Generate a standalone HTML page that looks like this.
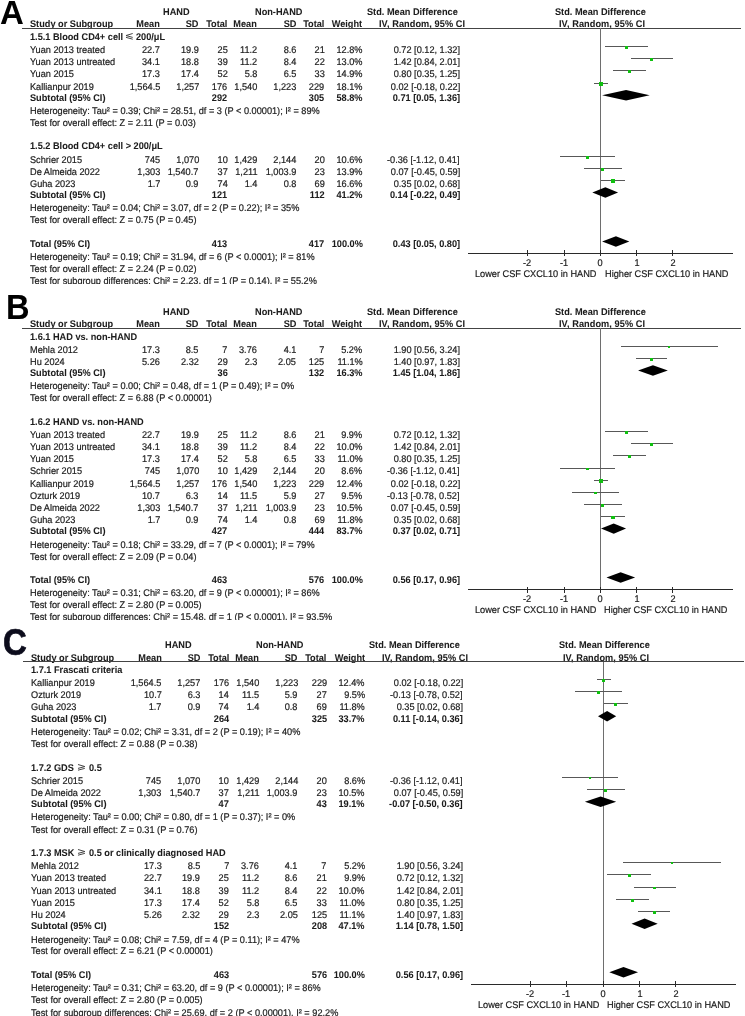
<!DOCTYPE html>
<html><head><meta charset="utf-8"><style>
html,body{margin:0;padding:0;background:#fff;}
body{width:745px;height:1016px;position:relative;overflow:hidden;font-family:"Liberation Sans",sans-serif;}
#wrap{position:absolute;left:0;top:0;width:745px;height:1016px;overflow:hidden;background:#fff;filter:blur(0.3px);}
.clip{position:absolute;left:0;width:745px;overflow:hidden;}
.inner{position:absolute;left:0;width:745px;height:1016px;}
.t{position:absolute;font-size:9.7px;line-height:11px;white-space:nowrap;color:#1c1c1c;text-rendering:geometricPrecision;transform:scaleX(0.9474);-webkit-text-stroke:0.2px #1c1c1c;}
.b{font-weight:bold;-webkit-text-stroke-width:0.06px;}
.l{position:absolute;}
.ov{position:absolute;left:0;top:0;}
.big{position:absolute;font-weight:bold;line-height:1;color:#000;}
</style></head><body><div id="wrap">
<div class="clip" style="top:0px;height:284px"><div class="inner" style="top:0px"><div class="t b" style="top:7.40px;left:163.00px;transform-origin:0 0;">HAND</div>
<div class="t b" style="top:7.40px;left:254.60px;transform-origin:0 0;">Non-HAND</div>
<div class="t b" style="top:7.40px;left:367.00px;transform-origin:0 0;">Std. Mean Difference</div>
<div class="t b" style="top:7.40px;left:555.20px;transform-origin:0 0;">Std. Mean Difference</div>
<div class="t b" style="top:19.30px;left:29.60px;transform-origin:0 0;">Study or Subgroup</div>
<div class="t b" style="top:19.30px;right:585.00px;transform-origin:100% 0;">Mean</div>
<div class="t b" style="top:19.30px;right:546.20px;transform-origin:100% 0;">SD</div>
<div class="t b" style="top:19.30px;right:517.50px;transform-origin:100% 0;">Total</div>
<div class="t b" style="top:19.30px;right:487.80px;transform-origin:100% 0;">Mean</div>
<div class="t b" style="top:19.30px;right:449.00px;transform-origin:100% 0;">SD</div>
<div class="t b" style="top:19.30px;right:420.50px;transform-origin:100% 0;">Total</div>
<div class="t b" style="top:19.30px;right:382.50px;transform-origin:100% 0;">Weight</div>
<div class="t b" style="top:19.30px;left:379.10px;transform-origin:0 0;"><span style="letter-spacing:0.07px">IV, Random, 95% CI</span></div>
<div class="t b" style="top:19.30px;left:559.20px;transform-origin:0 0;"><span style="letter-spacing:0.07px">IV, Random, 95% CI</span></div>
<div class="l" style="left:22.00px;top:28.00px;width:719.00px;height:1px;background:#444"></div>
<div class="l" style="left:600.00px;top:28.30px;width:1px;height:225.00px;background:#6e6e6e"></div>
<div class="t b" style="top:32.10px;left:29.60px;transform-origin:0 0;">1.5.1 Blood CD4+ cell</div>
<svg class="l" style="left:125.10px;top:32.80px;overflow:visible" width="8.70" height="8" viewBox="-1 0 8.70 8"><path d="M6.70,0.5 L0,2.55 L6.70,4.4 M0,4.35 L6.70,6.2" stroke="#3a3a3a" stroke-width="0.95" fill="none" stroke-linecap="butt"/></svg>
<div class="t b" style="top:32.10px;left:136.40px;transform-origin:0 0;">200/μL</div>
<div class="t" style="top:44.90px;left:29.60px;transform-origin:0 0;">Yuan 2013 treated</div>
<div class="t" style="top:44.90px;right:585.00px;transform-origin:100% 0;">22.7</div>
<div class="t" style="top:44.90px;right:546.20px;transform-origin:100% 0;">19.9</div>
<div class="t" style="top:44.90px;right:517.50px;transform-origin:100% 0;">25</div>
<div class="t" style="top:44.90px;right:487.80px;transform-origin:100% 0;">11.2</div>
<div class="t" style="top:44.90px;right:449.00px;transform-origin:100% 0;">8.6</div>
<div class="t" style="top:44.90px;right:420.50px;transform-origin:100% 0;">21</div>
<div class="t" style="top:44.90px;right:382.50px;transform-origin:100% 0;">12.8%</div>
<div class="t" style="top:44.90px;right:285.10px;transform-origin:100% 0;">0.72 [0.12, 1.32]</div>
<div class="l" style="left:604.66px;top:46.00px;width:43.56px;height:1px;background:#585858"></div>
<div class="l" style="left:624.86px;top:45.73px;width:3.15px;height:3.15px;background:#10c010"></div>
<div class="t" style="top:57.20px;left:29.60px;transform-origin:0 0;">Yuan 2013 untreated</div>
<div class="t" style="top:57.20px;right:585.00px;transform-origin:100% 0;">34.1</div>
<div class="t" style="top:57.20px;right:546.20px;transform-origin:100% 0;">18.8</div>
<div class="t" style="top:57.20px;right:517.50px;transform-origin:100% 0;">39</div>
<div class="t" style="top:57.20px;right:487.80px;transform-origin:100% 0;">11.2</div>
<div class="t" style="top:57.20px;right:449.00px;transform-origin:100% 0;">8.4</div>
<div class="t" style="top:57.20px;right:420.50px;transform-origin:100% 0;">22</div>
<div class="t" style="top:57.20px;right:382.50px;transform-origin:100% 0;">13.0%</div>
<div class="t" style="top:57.20px;right:285.10px;transform-origin:100% 0;">1.42 [0.84, 2.01]</div>
<div class="l" style="left:630.79px;top:58.00px;width:42.47px;height:1px;background:#585858"></div>
<div class="l" style="left:650.26px;top:58.01px;width:3.17px;height:3.17px;background:#10c010"></div>
<div class="t" style="top:69.30px;left:29.60px;transform-origin:0 0;">Yuan 2015</div>
<div class="t" style="top:69.30px;right:585.00px;transform-origin:100% 0;">17.3</div>
<div class="t" style="top:69.30px;right:546.20px;transform-origin:100% 0;">17.4</div>
<div class="t" style="top:69.30px;right:517.50px;transform-origin:100% 0;">52</div>
<div class="t" style="top:69.30px;right:487.80px;transform-origin:100% 0;">5.8</div>
<div class="t" style="top:69.30px;right:449.00px;transform-origin:100% 0;">6.5</div>
<div class="t" style="top:69.30px;right:420.50px;transform-origin:100% 0;">33</div>
<div class="t" style="top:69.30px;right:382.50px;transform-origin:100% 0;">14.9%</div>
<div class="t" style="top:69.30px;right:285.10px;transform-origin:100% 0;">0.80 [0.35, 1.25]</div>
<div class="l" style="left:613.00px;top:70.00px;width:32.67px;height:1px;background:#585858"></div>
<div class="l" style="left:627.64px;top:70.00px;width:3.40px;height:3.40px;background:#10c010"></div>
<div class="t" style="top:81.90px;left:29.60px;transform-origin:0 0;">Kallianpur 2019</div>
<div class="t" style="top:81.90px;right:585.00px;transform-origin:100% 0;">1,564.5</div>
<div class="t" style="top:81.90px;right:546.20px;transform-origin:100% 0;">1,257</div>
<div class="t" style="top:81.90px;right:517.50px;transform-origin:100% 0;">176</div>
<div class="t" style="top:81.90px;right:487.80px;transform-origin:100% 0;">1,540</div>
<div class="t" style="top:81.90px;right:449.00px;transform-origin:100% 0;">1,223</div>
<div class="t" style="top:81.90px;right:420.50px;transform-origin:100% 0;">229</div>
<div class="t" style="top:81.90px;right:382.50px;transform-origin:100% 0;">18.1%</div>
<div class="t" style="top:81.90px;right:285.10px;transform-origin:100% 0;">0.02 [-0.18, 0.22]</div>
<div class="l" style="left:593.77px;top:83.00px;width:14.52px;height:1px;background:#585858"></div>
<div class="l" style="left:599.15px;top:82.43px;width:3.74px;height:3.74px;background:#10c010"></div>
<div class="t b" style="top:92.80px;left:29.60px;transform-origin:0 0;">Subtotal (95% CI)</div>
<div class="t b" style="top:92.80px;right:517.50px;transform-origin:100% 0;">292</div>
<div class="t b" style="top:92.80px;right:420.50px;transform-origin:100% 0;">305</div>
<div class="t b" style="top:92.80px;right:382.50px;transform-origin:100% 0;">58.8%</div>
<div class="t b" style="top:92.80px;right:285.10px;transform-origin:100% 0;">0.71 [0.05, 1.36]</div>
<div class="t" style="top:106.00px;left:29.60px;transform-origin:0 0;">Heterogeneity: Tau² = 0.39; Chi² = 28.51, df = 3 (P &lt; 0.00001); I² = 89%</div>
<div class="t" style="top:117.80px;left:29.60px;transform-origin:0 0;">Test for overall effect: Z = 2.11 (P = 0.03)</div>
<div class="t b" style="top:141.30px;left:29.60px;transform-origin:0 0;">1.5.2 Blood CD4+ cell &gt; 200/μL</div>
<div class="t" style="top:154.70px;left:29.60px;transform-origin:0 0;">Schrier 2015</div>
<div class="t" style="top:154.70px;right:585.00px;transform-origin:100% 0;">745</div>
<div class="t" style="top:154.70px;right:546.20px;transform-origin:100% 0;">1,070</div>
<div class="t" style="top:154.70px;right:517.50px;transform-origin:100% 0;">10</div>
<div class="t" style="top:154.70px;right:487.80px;transform-origin:100% 0;">1,429</div>
<div class="t" style="top:154.70px;right:449.00px;transform-origin:100% 0;">2,144</div>
<div class="t" style="top:154.70px;right:420.50px;transform-origin:100% 0;">20</div>
<div class="t" style="top:154.70px;right:382.50px;transform-origin:100% 0;">10.6%</div>
<div class="t" style="top:154.70px;right:285.10px;transform-origin:100% 0;">-0.36 [-1.12, 0.41]</div>
<div class="l" style="left:559.64px;top:156.00px;width:55.54px;height:1px;background:#585858"></div>
<div class="l" style="left:585.80px;top:155.67px;width:2.87px;height:2.87px;background:#10c010"></div>
<div class="t" style="top:166.80px;left:29.60px;transform-origin:0 0;">De Almeida 2022</div>
<div class="t" style="top:166.80px;right:585.00px;transform-origin:100% 0;">1,303</div>
<div class="t" style="top:166.80px;right:546.20px;transform-origin:100% 0;">1,540.7</div>
<div class="t" style="top:166.80px;right:517.50px;transform-origin:100% 0;">37</div>
<div class="t" style="top:166.80px;right:487.80px;transform-origin:100% 0;">1,211</div>
<div class="t" style="top:166.80px;right:449.00px;transform-origin:100% 0;">1,003.9</div>
<div class="t" style="top:166.80px;right:420.50px;transform-origin:100% 0;">23</div>
<div class="t" style="top:166.80px;right:382.50px;transform-origin:100% 0;">13.9%</div>
<div class="t" style="top:166.80px;right:285.10px;transform-origin:100% 0;">0.07 [-0.45, 0.59]</div>
<div class="l" style="left:583.96px;top:168.00px;width:37.75px;height:1px;background:#585858"></div>
<div class="l" style="left:601.20px;top:167.56px;width:3.28px;height:3.28px;background:#10c010"></div>
<div class="t" style="top:178.70px;left:29.60px;transform-origin:0 0;">Guha 2023</div>
<div class="t" style="top:178.70px;right:585.00px;transform-origin:100% 0;">1.7</div>
<div class="t" style="top:178.70px;right:546.20px;transform-origin:100% 0;">0.9</div>
<div class="t" style="top:178.70px;right:517.50px;transform-origin:100% 0;">74</div>
<div class="t" style="top:178.70px;right:487.80px;transform-origin:100% 0;">1.4</div>
<div class="t" style="top:178.70px;right:449.00px;transform-origin:100% 0;">0.8</div>
<div class="t" style="top:178.70px;right:420.50px;transform-origin:100% 0;">69</div>
<div class="t" style="top:178.70px;right:382.50px;transform-origin:100% 0;">16.6%</div>
<div class="t" style="top:178.70px;right:285.10px;transform-origin:100% 0;">0.35 [0.02, 0.68]</div>
<div class="l" style="left:601.03px;top:180.00px;width:23.96px;height:1px;background:#585858"></div>
<div class="l" style="left:611.21px;top:179.31px;width:3.59px;height:3.59px;background:#10c010"></div>
<div class="t b" style="top:190.10px;left:29.60px;transform-origin:0 0;">Subtotal (95% CI)</div>
<div class="t b" style="top:190.10px;right:517.50px;transform-origin:100% 0;">121</div>
<div class="t b" style="top:190.10px;right:420.50px;transform-origin:100% 0;">112</div>
<div class="t b" style="top:190.10px;right:382.50px;transform-origin:100% 0;">41.2%</div>
<div class="t b" style="top:190.10px;right:285.10px;transform-origin:100% 0;">0.14 [-0.22, 0.49]</div>
<div class="t" style="top:203.20px;left:29.60px;transform-origin:0 0;">Heterogeneity: Tau² = 0.04; Chi² = 3.07, df = 2 (P = 0.22); I² = 35%</div>
<div class="t" style="top:214.60px;left:29.60px;transform-origin:0 0;">Test for overall effect: Z = 0.75 (P = 0.45)</div>
<div class="t b" style="top:239.10px;left:29.60px;transform-origin:0 0;">Total (95% CI)</div>
<div class="t b" style="top:239.10px;right:517.50px;transform-origin:100% 0;">413</div>
<div class="t b" style="top:239.10px;right:420.50px;transform-origin:100% 0;">417</div>
<div class="t b" style="top:239.10px;right:382.50px;transform-origin:100% 0;">100.0%</div>
<div class="t b" style="top:239.10px;right:285.10px;transform-origin:100% 0;">0.43 [0.05, 0.80]</div>
<div class="t" style="top:252.20px;left:29.60px;transform-origin:0 0;">Heterogeneity: Tau² = 0.19; Chi² = 31.94, df = 6 (P &lt; 0.0001); I² = 81%</div>
<div class="t" style="top:264.30px;left:29.60px;transform-origin:0 0;">Test for overall effect: Z = 2.24 (P = 0.02)</div>
<div class="t" style="top:276.00px;left:29.60px;transform-origin:0 0;">Test for subgroup differences: Chi² = 2.23, df = 1 (P = 0.14), I² = 55.2%</div>
<div class="l" style="left:468.00px;top:253.00px;width:264.50px;height:1px;background:#2a2a2a"></div>
<div class="l" style="left:527.00px;top:250.30px;width:1px;height:6.00px;background:#2a2a2a"></div>
<div class="t" style="top:257.80px;left:427.20px;width:200px;text-align:center;transform-origin:50% 0;">-2</div>
<div class="l" style="left:564.00px;top:250.30px;width:1px;height:6.00px;background:#2a2a2a"></div>
<div class="t" style="top:257.80px;left:463.50px;width:200px;text-align:center;transform-origin:50% 0;">-1</div>
<div class="l" style="left:600.00px;top:250.30px;width:1px;height:6.00px;background:#2a2a2a"></div>
<div class="t" style="top:257.80px;left:500.30px;width:200px;text-align:center;transform-origin:50% 0;">0</div>
<div class="l" style="left:636.00px;top:250.30px;width:1px;height:6.00px;background:#2a2a2a"></div>
<div class="t" style="top:257.80px;left:536.60px;width:200px;text-align:center;transform-origin:50% 0;">1</div>
<div class="l" style="left:672.00px;top:250.30px;width:1px;height:6.00px;background:#2a2a2a"></div>
<div class="t" style="top:257.80px;left:572.90px;width:200px;text-align:center;transform-origin:50% 0;">2</div>
<div class="t" style="top:269.10px;left:475.10px;transform-origin:0 0;">Lower CSF CXCL10 in HAND</div>
<div class="t" style="top:269.10px;left:604.60px;transform-origin:0 0;">Higher CSF CXCL10 in HAND</div><svg class="ov" width="745" height="1016" viewBox="0 0 745 1016"><polygon points="602.12,95.20 626.07,90.00 649.67,95.20 626.07,100.40" fill="#000"/><polygon points="592.31,192.50 605.38,187.30 618.09,192.50 605.38,197.70" fill="#000"/><polygon points="602.12,241.50 615.91,236.30 629.34,241.50 615.91,246.70" fill="#000"/></svg></div></div><div class="clip" style="top:284px;height:336px"><div class="inner" style="top:-284px"><div class="t b" style="top:307.40px;left:163.00px;transform-origin:0 0;">HAND</div>
<div class="t b" style="top:307.40px;left:254.60px;transform-origin:0 0;">Non-HAND</div>
<div class="t b" style="top:307.40px;left:367.00px;transform-origin:0 0;">Std. Mean Difference</div>
<div class="t b" style="top:307.40px;left:555.20px;transform-origin:0 0;">Std. Mean Difference</div>
<div class="t b" style="top:319.40px;left:29.60px;transform-origin:0 0;">Study or Subgroup</div>
<div class="t b" style="top:319.40px;right:585.00px;transform-origin:100% 0;">Mean</div>
<div class="t b" style="top:319.40px;right:546.20px;transform-origin:100% 0;">SD</div>
<div class="t b" style="top:319.40px;right:517.50px;transform-origin:100% 0;">Total</div>
<div class="t b" style="top:319.40px;right:487.80px;transform-origin:100% 0;">Mean</div>
<div class="t b" style="top:319.40px;right:449.00px;transform-origin:100% 0;">SD</div>
<div class="t b" style="top:319.40px;right:420.50px;transform-origin:100% 0;">Total</div>
<div class="t b" style="top:319.40px;right:382.50px;transform-origin:100% 0;">Weight</div>
<div class="t b" style="top:319.40px;left:379.10px;transform-origin:0 0;"><span style="letter-spacing:0.07px">IV, Random, 95% CI</span></div>
<div class="t b" style="top:319.40px;left:559.20px;transform-origin:0 0;"><span style="letter-spacing:0.07px">IV, Random, 95% CI</span></div>
<div class="l" style="left:22.30px;top:328.00px;width:718.50px;height:1px;background:#444"></div>
<div class="l" style="left:600.00px;top:328.30px;width:1px;height:261.30px;background:#6e6e6e"></div>
<div class="t b" style="top:331.80px;left:29.60px;transform-origin:0 0;">1.6.1 HAD vs. non-HAND</div>
<div class="t" style="top:344.80px;left:29.60px;transform-origin:0 0;">Mehla 2012</div>
<div class="t" style="top:344.80px;right:585.00px;transform-origin:100% 0;">17.3</div>
<div class="t" style="top:344.80px;right:546.20px;transform-origin:100% 0;">8.5</div>
<div class="t" style="top:344.80px;right:517.50px;transform-origin:100% 0;">7</div>
<div class="t" style="top:344.80px;right:487.80px;transform-origin:100% 0;">3.76</div>
<div class="t" style="top:344.80px;right:449.00px;transform-origin:100% 0;">4.1</div>
<div class="t" style="top:344.80px;right:420.50px;transform-origin:100% 0;">7</div>
<div class="t" style="top:344.80px;right:382.50px;transform-origin:100% 0;">5.2%</div>
<div class="t" style="top:344.80px;right:285.10px;transform-origin:100% 0;">1.90 [0.56, 3.24]</div>
<div class="l" style="left:620.63px;top:346.00px;width:97.28px;height:1px;background:#585858"></div>
<div class="l" style="left:668.27px;top:346.20px;width:2.01px;height:2.01px;background:#10c010"></div>
<div class="t" style="top:357.00px;left:29.60px;transform-origin:0 0;">Hu 2024</div>
<div class="t" style="top:357.00px;right:585.00px;transform-origin:100% 0;">5.26</div>
<div class="t" style="top:357.00px;right:546.20px;transform-origin:100% 0;">2.32</div>
<div class="t" style="top:357.00px;right:517.50px;transform-origin:100% 0;">29</div>
<div class="t" style="top:357.00px;right:487.80px;transform-origin:100% 0;">2.3</div>
<div class="t" style="top:357.00px;right:449.00px;transform-origin:100% 0;">2.05</div>
<div class="t" style="top:357.00px;right:420.50px;transform-origin:100% 0;">125</div>
<div class="t" style="top:357.00px;right:382.50px;transform-origin:100% 0;">11.1%</div>
<div class="t" style="top:357.00px;right:285.10px;transform-origin:100% 0;">1.40 [0.97, 1.83]</div>
<div class="l" style="left:635.51px;top:358.00px;width:31.22px;height:1px;background:#585858"></div>
<div class="l" style="left:649.65px;top:357.93px;width:2.93px;height:2.93px;background:#10c010"></div>
<div class="t b" style="top:368.10px;left:29.60px;transform-origin:0 0;">Subtotal (95% CI)</div>
<div class="t b" style="top:368.10px;right:517.50px;transform-origin:100% 0;">36</div>
<div class="t b" style="top:368.10px;right:420.50px;transform-origin:100% 0;">132</div>
<div class="t b" style="top:368.10px;right:382.50px;transform-origin:100% 0;">16.3%</div>
<div class="t b" style="top:368.10px;right:285.10px;transform-origin:100% 0;">1.45 [1.04, 1.86]</div>
<div class="t" style="top:381.10px;left:29.60px;transform-origin:0 0;">Heterogeneity: Tau² = 0.00; Chi² = 0.48, df = 1 (P = 0.49); I² = 0%</div>
<div class="t" style="top:392.90px;left:29.60px;transform-origin:0 0;">Test for overall effect: Z = 6.88 (P &lt; 0.00001)</div>
<div class="t b" style="top:416.70px;left:29.60px;transform-origin:0 0;">1.6.2 HAND vs. non-HAND</div>
<div class="t" style="top:430.00px;left:29.60px;transform-origin:0 0;">Yuan 2013 treated</div>
<div class="t" style="top:430.00px;right:585.00px;transform-origin:100% 0;">22.7</div>
<div class="t" style="top:430.00px;right:546.20px;transform-origin:100% 0;">19.9</div>
<div class="t" style="top:430.00px;right:517.50px;transform-origin:100% 0;">25</div>
<div class="t" style="top:430.00px;right:487.80px;transform-origin:100% 0;">11.2</div>
<div class="t" style="top:430.00px;right:449.00px;transform-origin:100% 0;">8.6</div>
<div class="t" style="top:430.00px;right:420.50px;transform-origin:100% 0;">21</div>
<div class="t" style="top:430.00px;right:382.50px;transform-origin:100% 0;">9.9%</div>
<div class="t" style="top:430.00px;right:285.10px;transform-origin:100% 0;">0.72 [0.12, 1.32]</div>
<div class="l" style="left:604.66px;top:431.00px;width:43.56px;height:1px;background:#585858"></div>
<div class="l" style="left:625.05px;top:431.02px;width:2.77px;height:2.77px;background:#10c010"></div>
<div class="t" style="top:442.10px;left:29.60px;transform-origin:0 0;">Yuan 2013 untreated</div>
<div class="t" style="top:442.10px;right:585.00px;transform-origin:100% 0;">34.1</div>
<div class="t" style="top:442.10px;right:546.20px;transform-origin:100% 0;">18.8</div>
<div class="t" style="top:442.10px;right:517.50px;transform-origin:100% 0;">39</div>
<div class="t" style="top:442.10px;right:487.80px;transform-origin:100% 0;">11.2</div>
<div class="t" style="top:442.10px;right:449.00px;transform-origin:100% 0;">8.4</div>
<div class="t" style="top:442.10px;right:420.50px;transform-origin:100% 0;">22</div>
<div class="t" style="top:442.10px;right:382.50px;transform-origin:100% 0;">10.0%</div>
<div class="t" style="top:442.10px;right:285.10px;transform-origin:100% 0;">1.42 [0.84, 2.01]</div>
<div class="l" style="left:630.79px;top:443.00px;width:42.47px;height:1px;background:#585858"></div>
<div class="l" style="left:650.45px;top:443.11px;width:2.78px;height:2.78px;background:#10c010"></div>
<div class="t" style="top:454.20px;left:29.60px;transform-origin:0 0;">Yuan 2015</div>
<div class="t" style="top:454.20px;right:585.00px;transform-origin:100% 0;">17.3</div>
<div class="t" style="top:454.20px;right:546.20px;transform-origin:100% 0;">17.4</div>
<div class="t" style="top:454.20px;right:517.50px;transform-origin:100% 0;">52</div>
<div class="t" style="top:454.20px;right:487.80px;transform-origin:100% 0;">5.8</div>
<div class="t" style="top:454.20px;right:449.00px;transform-origin:100% 0;">6.5</div>
<div class="t" style="top:454.20px;right:420.50px;transform-origin:100% 0;">33</div>
<div class="t" style="top:454.20px;right:382.50px;transform-origin:100% 0;">11.0%</div>
<div class="t" style="top:454.20px;right:285.10px;transform-origin:100% 0;">0.80 [0.35, 1.25]</div>
<div class="l" style="left:613.00px;top:455.00px;width:32.67px;height:1px;background:#585858"></div>
<div class="l" style="left:627.88px;top:455.14px;width:2.92px;height:2.92px;background:#10c010"></div>
<div class="t" style="top:466.40px;left:29.60px;transform-origin:0 0;">Schrier 2015</div>
<div class="t" style="top:466.40px;right:585.00px;transform-origin:100% 0;">745</div>
<div class="t" style="top:466.40px;right:546.20px;transform-origin:100% 0;">1,070</div>
<div class="t" style="top:466.40px;right:517.50px;transform-origin:100% 0;">10</div>
<div class="t" style="top:466.40px;right:487.80px;transform-origin:100% 0;">1,429</div>
<div class="t" style="top:466.40px;right:449.00px;transform-origin:100% 0;">2,144</div>
<div class="t" style="top:466.40px;right:420.50px;transform-origin:100% 0;">20</div>
<div class="t" style="top:466.40px;right:382.50px;transform-origin:100% 0;">8.6%</div>
<div class="t" style="top:466.40px;right:285.10px;transform-origin:100% 0;">-0.36 [-1.12, 0.41]</div>
<div class="l" style="left:559.64px;top:468.00px;width:55.54px;height:1px;background:#585858"></div>
<div class="l" style="left:585.94px;top:467.51px;width:2.58px;height:2.58px;background:#10c010"></div>
<div class="t" style="top:478.60px;left:29.60px;transform-origin:0 0;">Kallianpur 2019</div>
<div class="t" style="top:478.60px;right:585.00px;transform-origin:100% 0;">1,564.5</div>
<div class="t" style="top:478.60px;right:546.20px;transform-origin:100% 0;">1,257</div>
<div class="t" style="top:478.60px;right:517.50px;transform-origin:100% 0;">176</div>
<div class="t" style="top:478.60px;right:487.80px;transform-origin:100% 0;">1,540</div>
<div class="t" style="top:478.60px;right:449.00px;transform-origin:100% 0;">1,223</div>
<div class="t" style="top:478.60px;right:420.50px;transform-origin:100% 0;">229</div>
<div class="t" style="top:478.60px;right:382.50px;transform-origin:100% 0;">12.4%</div>
<div class="t" style="top:478.60px;right:285.10px;transform-origin:100% 0;">0.02 [-0.18, 0.22]</div>
<div class="l" style="left:593.77px;top:480.00px;width:14.52px;height:1px;background:#585858"></div>
<div class="l" style="left:599.48px;top:479.45px;width:3.10px;height:3.10px;background:#10c010"></div>
<div class="t" style="top:490.70px;left:29.60px;transform-origin:0 0;">Ozturk 2019</div>
<div class="t" style="top:490.70px;right:585.00px;transform-origin:100% 0;">10.7</div>
<div class="t" style="top:490.70px;right:546.20px;transform-origin:100% 0;">6.3</div>
<div class="t" style="top:490.70px;right:517.50px;transform-origin:100% 0;">14</div>
<div class="t" style="top:490.70px;right:487.80px;transform-origin:100% 0;">11.5</div>
<div class="t" style="top:490.70px;right:449.00px;transform-origin:100% 0;">5.9</div>
<div class="t" style="top:490.70px;right:420.50px;transform-origin:100% 0;">27</div>
<div class="t" style="top:490.70px;right:382.50px;transform-origin:100% 0;">9.5%</div>
<div class="t" style="top:490.70px;right:285.10px;transform-origin:100% 0;">-0.13 [-0.78, 0.52]</div>
<div class="l" style="left:571.99px;top:492.00px;width:47.19px;height:1px;background:#585858"></div>
<div class="l" style="left:594.22px;top:491.74px;width:2.71px;height:2.71px;background:#10c010"></div>
<div class="t" style="top:502.90px;left:29.60px;transform-origin:0 0;">De Almeida 2022</div>
<div class="t" style="top:502.90px;right:585.00px;transform-origin:100% 0;">1,303</div>
<div class="t" style="top:502.90px;right:546.20px;transform-origin:100% 0;">1,540.7</div>
<div class="t" style="top:502.90px;right:517.50px;transform-origin:100% 0;">37</div>
<div class="t" style="top:502.90px;right:487.80px;transform-origin:100% 0;">1,211</div>
<div class="t" style="top:502.90px;right:449.00px;transform-origin:100% 0;">1,003.9</div>
<div class="t" style="top:502.90px;right:420.50px;transform-origin:100% 0;">23</div>
<div class="t" style="top:502.90px;right:382.50px;transform-origin:100% 0;">10.5%</div>
<div class="t" style="top:502.90px;right:285.10px;transform-origin:100% 0;">0.07 [-0.45, 0.59]</div>
<div class="l" style="left:583.96px;top:504.00px;width:37.75px;height:1px;background:#585858"></div>
<div class="l" style="left:601.42px;top:503.87px;width:2.85px;height:2.85px;background:#10c010"></div>
<div class="t" style="top:514.90px;left:29.60px;transform-origin:0 0;">Guha 2023</div>
<div class="t" style="top:514.90px;right:585.00px;transform-origin:100% 0;">1.7</div>
<div class="t" style="top:514.90px;right:546.20px;transform-origin:100% 0;">0.9</div>
<div class="t" style="top:514.90px;right:517.50px;transform-origin:100% 0;">74</div>
<div class="t" style="top:514.90px;right:487.80px;transform-origin:100% 0;">1.4</div>
<div class="t" style="top:514.90px;right:449.00px;transform-origin:100% 0;">0.8</div>
<div class="t" style="top:514.90px;right:420.50px;transform-origin:100% 0;">69</div>
<div class="t" style="top:514.90px;right:382.50px;transform-origin:100% 0;">11.8%</div>
<div class="t" style="top:514.90px;right:285.10px;transform-origin:100% 0;">0.35 [0.02, 0.68]</div>
<div class="l" style="left:601.03px;top:516.00px;width:23.96px;height:1px;background:#585858"></div>
<div class="l" style="left:611.49px;top:515.79px;width:3.02px;height:3.02px;background:#10c010"></div>
<div class="t b" style="top:526.20px;left:29.60px;transform-origin:0 0;">Subtotal (95% CI)</div>
<div class="t b" style="top:526.20px;right:517.50px;transform-origin:100% 0;">427</div>
<div class="t b" style="top:526.20px;right:420.50px;transform-origin:100% 0;">444</div>
<div class="t b" style="top:526.20px;right:382.50px;transform-origin:100% 0;">83.7%</div>
<div class="t b" style="top:526.20px;right:285.10px;transform-origin:100% 0;">0.37 [0.02, 0.71]</div>
<div class="t" style="top:539.50px;left:29.60px;transform-origin:0 0;">Heterogeneity: Tau² = 0.18; Chi² = 33.29, df = 7 (P &lt; 0.0001); I² = 79%</div>
<div class="t" style="top:551.50px;left:29.60px;transform-origin:0 0;">Test for overall effect: Z = 2.09 (P = 0.04)</div>
<div class="t b" style="top:575.10px;left:29.60px;transform-origin:0 0;">Total (95% CI)</div>
<div class="t b" style="top:575.10px;right:517.50px;transform-origin:100% 0;">463</div>
<div class="t b" style="top:575.10px;right:420.50px;transform-origin:100% 0;">576</div>
<div class="t b" style="top:575.10px;right:382.50px;transform-origin:100% 0;">100.0%</div>
<div class="t b" style="top:575.10px;right:285.10px;transform-origin:100% 0;">0.56 [0.17, 0.96]</div>
<div class="t" style="top:588.30px;left:29.60px;transform-origin:0 0;">Heterogeneity: Tau² = 0.31; Chi² = 63.20, df = 9 (P &lt; 0.00001); I² = 86%</div>
<div class="t" style="top:600.20px;left:29.60px;transform-origin:0 0;">Test for overall effect: Z = 2.80 (P = 0.005)</div>
<div class="t" style="top:612.30px;left:29.60px;transform-origin:0 0;">Test for subgroup differences: Chi² = 15.48, df = 1 (P &lt; 0.0001), I² = 93.5%</div>
<div class="l" style="left:468.00px;top:589.00px;width:264.90px;height:1px;background:#2a2a2a"></div>
<div class="l" style="left:527.00px;top:586.60px;width:1px;height:6.00px;background:#2a2a2a"></div>
<div class="t" style="top:594.10px;left:427.20px;width:200px;text-align:center;transform-origin:50% 0;">-2</div>
<div class="l" style="left:564.00px;top:586.60px;width:1px;height:6.00px;background:#2a2a2a"></div>
<div class="t" style="top:594.10px;left:463.50px;width:200px;text-align:center;transform-origin:50% 0;">-1</div>
<div class="l" style="left:600.00px;top:586.60px;width:1px;height:6.00px;background:#2a2a2a"></div>
<div class="t" style="top:594.10px;left:500.30px;width:200px;text-align:center;transform-origin:50% 0;">0</div>
<div class="l" style="left:636.00px;top:586.60px;width:1px;height:6.00px;background:#2a2a2a"></div>
<div class="t" style="top:594.10px;left:536.60px;width:200px;text-align:center;transform-origin:50% 0;">1</div>
<div class="l" style="left:672.00px;top:586.60px;width:1px;height:6.00px;background:#2a2a2a"></div>
<div class="t" style="top:594.10px;left:572.90px;width:200px;text-align:center;transform-origin:50% 0;">2</div>
<div class="t" style="top:605.40px;left:475.10px;transform-origin:0 0;">Lower CSF CXCL10 in HAND</div>
<div class="t" style="top:605.40px;left:604.40px;transform-origin:0 0;">Higher CSF CXCL10 in HAND</div><svg class="ov" width="745" height="1016" viewBox="0 0 745 1016"><polygon points="638.05,370.50 652.93,365.30 667.82,370.50 652.93,375.70" fill="#000"/><polygon points="601.03,528.60 613.73,523.40 626.07,528.60 613.73,533.80" fill="#000"/><polygon points="606.47,577.50 620.63,572.30 635.15,577.50 620.63,582.70" fill="#000"/></svg></div></div><div class="clip" style="top:620px;height:396px"><div class="inner" style="top:-620px"><div class="t b" style="top:640.40px;left:164.80px;transform-origin:0 0;">HAND</div>
<div class="t b" style="top:640.40px;left:256.20px;transform-origin:0 0;">Non-HAND</div>
<div class="t b" style="top:640.40px;left:369.10px;transform-origin:0 0;">Std. Mean Difference</div>
<div class="t b" style="top:640.40px;left:558.50px;transform-origin:0 0;">Std. Mean Difference</div>
<div class="t b" style="top:652.70px;left:30.90px;transform-origin:0 0;">Study or Subgroup</div>
<div class="t b" style="top:652.70px;right:583.40px;transform-origin:100% 0;">Mean</div>
<div class="t b" style="top:652.70px;right:545.00px;transform-origin:100% 0;">SD</div>
<div class="t b" style="top:652.70px;right:516.00px;transform-origin:100% 0;">Total</div>
<div class="t b" style="top:652.70px;right:485.80px;transform-origin:100% 0;">Mean</div>
<div class="t b" style="top:652.70px;right:447.20px;transform-origin:100% 0;">SD</div>
<div class="t b" style="top:652.70px;right:418.30px;transform-origin:100% 0;">Total</div>
<div class="t b" style="top:652.70px;right:380.20px;transform-origin:100% 0;">Weight</div>
<div class="t b" style="top:652.70px;left:381.50px;transform-origin:0 0;"><span style="letter-spacing:0.07px">IV, Random, 95% CI</span></div>
<div class="t b" style="top:652.70px;left:562.50px;transform-origin:0 0;"><span style="letter-spacing:0.07px">IV, Random, 95% CI</span></div>
<div class="l" style="left:23.20px;top:661.00px;width:721.30px;height:1px;background:#444"></div>
<div class="l" style="left:603.00px;top:661.50px;width:1px;height:322.90px;background:#6e6e6e"></div>
<div class="t b" style="top:665.10px;left:30.90px;transform-origin:0 0;">1.7.1 Frascati criteria</div>
<div class="t" style="top:677.80px;left:30.90px;transform-origin:0 0;">Kallianpur 2019</div>
<div class="t" style="top:677.80px;right:583.40px;transform-origin:100% 0;">1,564.5</div>
<div class="t" style="top:677.80px;right:545.00px;transform-origin:100% 0;">1,257</div>
<div class="t" style="top:677.80px;right:516.00px;transform-origin:100% 0;">176</div>
<div class="t" style="top:677.80px;right:485.80px;transform-origin:100% 0;">1,540</div>
<div class="t" style="top:677.80px;right:447.20px;transform-origin:100% 0;">1,223</div>
<div class="t" style="top:677.80px;right:418.30px;transform-origin:100% 0;">229</div>
<div class="t" style="top:677.80px;right:380.20px;transform-origin:100% 0;">12.4%</div>
<div class="t" style="top:677.80px;right:282.20px;transform-origin:100% 0;">0.02 [-0.18, 0.22]</div>
<div class="l" style="left:596.55px;top:679.00px;width:14.56px;height:1px;background:#585858"></div>
<div class="l" style="left:602.28px;top:678.65px;width:3.10px;height:3.10px;background:#10c010"></div>
<div class="t" style="top:689.90px;left:30.90px;transform-origin:0 0;">Ozturk 2019</div>
<div class="t" style="top:689.90px;right:583.40px;transform-origin:100% 0;">10.7</div>
<div class="t" style="top:689.90px;right:545.00px;transform-origin:100% 0;">6.3</div>
<div class="t" style="top:689.90px;right:516.00px;transform-origin:100% 0;">14</div>
<div class="t" style="top:689.90px;right:485.80px;transform-origin:100% 0;">11.5</div>
<div class="t" style="top:689.90px;right:447.20px;transform-origin:100% 0;">5.9</div>
<div class="t" style="top:689.90px;right:418.30px;transform-origin:100% 0;">27</div>
<div class="t" style="top:689.90px;right:380.20px;transform-origin:100% 0;">9.5%</div>
<div class="t" style="top:689.90px;right:282.20px;transform-origin:100% 0;">-0.13 [-0.78, 0.52]</div>
<div class="l" style="left:574.71px;top:691.00px;width:47.32px;height:1px;background:#585858"></div>
<div class="l" style="left:597.01px;top:690.94px;width:2.71px;height:2.71px;background:#10c010"></div>
<div class="t" style="top:702.20px;left:30.90px;transform-origin:0 0;">Guha 2023</div>
<div class="t" style="top:702.20px;right:583.40px;transform-origin:100% 0;">1.7</div>
<div class="t" style="top:702.20px;right:545.00px;transform-origin:100% 0;">0.9</div>
<div class="t" style="top:702.20px;right:516.00px;transform-origin:100% 0;">74</div>
<div class="t" style="top:702.20px;right:485.80px;transform-origin:100% 0;">1.4</div>
<div class="t" style="top:702.20px;right:447.20px;transform-origin:100% 0;">0.8</div>
<div class="t" style="top:702.20px;right:418.30px;transform-origin:100% 0;">69</div>
<div class="t" style="top:702.20px;right:380.20px;transform-origin:100% 0;">11.8%</div>
<div class="t" style="top:702.20px;right:282.20px;transform-origin:100% 0;">0.35 [0.02, 0.68]</div>
<div class="l" style="left:603.83px;top:703.00px;width:24.02px;height:1px;background:#585858"></div>
<div class="l" style="left:614.33px;top:703.09px;width:3.02px;height:3.02px;background:#10c010"></div>
<div class="t b" style="top:713.80px;left:30.90px;transform-origin:0 0;">Subtotal (95% CI)</div>
<div class="t b" style="top:713.80px;right:516.00px;transform-origin:100% 0;">264</div>
<div class="t b" style="top:713.80px;right:418.30px;transform-origin:100% 0;">325</div>
<div class="t b" style="top:713.80px;right:380.20px;transform-origin:100% 0;">33.7%</div>
<div class="t b" style="top:713.80px;right:282.20px;transform-origin:100% 0;">0.11 [-0.14, 0.36]</div>
<div class="t" style="top:726.80px;left:30.90px;transform-origin:0 0;">Heterogeneity: Tau² = 0.02; Chi² = 3.31, df = 2 (P = 0.19); I² = 40%</div>
<div class="t" style="top:739.10px;left:30.90px;transform-origin:0 0;">Test for overall effect: Z = 0.88 (P = 0.38)</div>
<div class="t b" style="top:762.60px;left:30.90px;transform-origin:0 0;">1.7.2 GDS</div>
<svg class="l" style="left:76.50px;top:763.80px;overflow:visible" width="8.80" height="8" viewBox="-1 0 8.80 8"><path d="M0,0.5 L6.80,2.55 L0,4.4 M0,6.2 L6.80,4.35" stroke="#3a3a3a" stroke-width="0.95" fill="none" stroke-linecap="butt"/></svg>
<div class="t b" style="top:762.60px;left:88.50px;transform-origin:0 0;">0.5</div>
<div class="t" style="top:775.70px;left:30.90px;transform-origin:0 0;">Schrier 2015</div>
<div class="t" style="top:775.70px;right:583.40px;transform-origin:100% 0;">745</div>
<div class="t" style="top:775.70px;right:545.00px;transform-origin:100% 0;">1,070</div>
<div class="t" style="top:775.70px;right:516.00px;transform-origin:100% 0;">10</div>
<div class="t" style="top:775.70px;right:485.80px;transform-origin:100% 0;">1,429</div>
<div class="t" style="top:775.70px;right:447.20px;transform-origin:100% 0;">2,144</div>
<div class="t" style="top:775.70px;right:418.30px;transform-origin:100% 0;">20</div>
<div class="t" style="top:775.70px;right:380.20px;transform-origin:100% 0;">8.6%</div>
<div class="t" style="top:775.70px;right:282.20px;transform-origin:100% 0;">-0.36 [-1.12, 0.41]</div>
<div class="l" style="left:562.33px;top:777.00px;width:55.69px;height:1px;background:#585858"></div>
<div class="l" style="left:588.71px;top:776.81px;width:2.58px;height:2.58px;background:#10c010"></div>
<div class="t" style="top:788.10px;left:30.90px;transform-origin:0 0;">De Almeida 2022</div>
<div class="t" style="top:788.10px;right:583.40px;transform-origin:100% 0;">1,303</div>
<div class="t" style="top:788.10px;right:545.00px;transform-origin:100% 0;">1,540.7</div>
<div class="t" style="top:788.10px;right:516.00px;transform-origin:100% 0;">37</div>
<div class="t" style="top:788.10px;right:485.80px;transform-origin:100% 0;">1,211</div>
<div class="t" style="top:788.10px;right:447.20px;transform-origin:100% 0;">1,003.9</div>
<div class="t" style="top:788.10px;right:418.30px;transform-origin:100% 0;">23</div>
<div class="t" style="top:788.10px;right:380.20px;transform-origin:100% 0;">10.5%</div>
<div class="t" style="top:788.10px;right:282.20px;transform-origin:100% 0;">0.07 [-0.45, 0.59]</div>
<div class="l" style="left:586.72px;top:789.00px;width:37.86px;height:1px;background:#585858"></div>
<div class="l" style="left:604.22px;top:789.07px;width:2.85px;height:2.85px;background:#10c010"></div>
<div class="t b" style="top:799.30px;left:30.90px;transform-origin:0 0;">Subtotal (95% CI)</div>
<div class="t b" style="top:799.30px;right:516.00px;transform-origin:100% 0;">47</div>
<div class="t b" style="top:799.30px;right:418.30px;transform-origin:100% 0;">43</div>
<div class="t b" style="top:799.30px;right:380.20px;transform-origin:100% 0;">19.1%</div>
<div class="t b" style="top:799.30px;right:282.20px;transform-origin:100% 0;">-0.07 [-0.50, 0.36]</div>
<div class="t" style="top:812.40px;left:30.90px;transform-origin:0 0;">Heterogeneity: Tau² = 0.00; Chi² = 0.80, df = 1 (P = 0.37); I² = 0%</div>
<div class="t" style="top:824.50px;left:30.90px;transform-origin:0 0;">Test for overall effect: Z = 0.31 (P = 0.76)</div>
<div class="t b" style="top:847.60px;left:30.90px;transform-origin:0 0;">1.7.3 MSK</div>
<svg class="l" style="left:77.00px;top:848.80px;overflow:visible" width="8.90" height="8" viewBox="-1 0 8.90 8"><path d="M0,0.5 L6.90,2.55 L0,4.4 M0,6.2 L6.90,4.35" stroke="#3a3a3a" stroke-width="0.95" fill="none" stroke-linecap="butt"/></svg>
<div class="t b" style="top:847.60px;left:88.70px;transform-origin:0 0;">0.5 or clinically diagnosed HAD</div>
<div class="t" style="top:860.80px;left:30.90px;transform-origin:0 0;">Mehla 2012</div>
<div class="t" style="top:860.80px;right:583.40px;transform-origin:100% 0;">17.3</div>
<div class="t" style="top:860.80px;right:545.00px;transform-origin:100% 0;">8.5</div>
<div class="t" style="top:860.80px;right:516.00px;transform-origin:100% 0;">7</div>
<div class="t" style="top:860.80px;right:485.80px;transform-origin:100% 0;">3.76</div>
<div class="t" style="top:860.80px;right:447.20px;transform-origin:100% 0;">4.1</div>
<div class="t" style="top:860.80px;right:418.30px;transform-origin:100% 0;">7</div>
<div class="t" style="top:860.80px;right:380.20px;transform-origin:100% 0;">5.2%</div>
<div class="t" style="top:860.80px;right:282.20px;transform-origin:100% 0;">1.90 [0.56, 3.24]</div>
<div class="l" style="left:623.48px;top:862.00px;width:97.55px;height:1px;background:#585858"></div>
<div class="l" style="left:671.26px;top:862.20px;width:2.01px;height:2.01px;background:#10c010"></div>
<div class="t" style="top:873.30px;left:30.90px;transform-origin:0 0;">Yuan 2013 treated</div>
<div class="t" style="top:873.30px;right:583.40px;transform-origin:100% 0;">22.7</div>
<div class="t" style="top:873.30px;right:545.00px;transform-origin:100% 0;">19.9</div>
<div class="t" style="top:873.30px;right:516.00px;transform-origin:100% 0;">25</div>
<div class="t" style="top:873.30px;right:485.80px;transform-origin:100% 0;">11.2</div>
<div class="t" style="top:873.30px;right:447.20px;transform-origin:100% 0;">8.6</div>
<div class="t" style="top:873.30px;right:418.30px;transform-origin:100% 0;">21</div>
<div class="t" style="top:873.30px;right:380.20px;transform-origin:100% 0;">9.9%</div>
<div class="t" style="top:873.30px;right:282.20px;transform-origin:100% 0;">0.72 [0.12, 1.32]</div>
<div class="l" style="left:607.47px;top:874.00px;width:43.68px;height:1px;background:#585858"></div>
<div class="l" style="left:627.92px;top:874.32px;width:2.77px;height:2.77px;background:#10c010"></div>
<div class="t" style="top:885.70px;left:30.90px;transform-origin:0 0;">Yuan 2013 untreated</div>
<div class="t" style="top:885.70px;right:583.40px;transform-origin:100% 0;">34.1</div>
<div class="t" style="top:885.70px;right:545.00px;transform-origin:100% 0;">18.8</div>
<div class="t" style="top:885.70px;right:516.00px;transform-origin:100% 0;">39</div>
<div class="t" style="top:885.70px;right:485.80px;transform-origin:100% 0;">11.2</div>
<div class="t" style="top:885.70px;right:447.20px;transform-origin:100% 0;">8.4</div>
<div class="t" style="top:885.70px;right:418.30px;transform-origin:100% 0;">22</div>
<div class="t" style="top:885.70px;right:380.20px;transform-origin:100% 0;">10.0%</div>
<div class="t" style="top:885.70px;right:282.20px;transform-origin:100% 0;">1.42 [0.84, 2.01]</div>
<div class="l" style="left:633.68px;top:887.00px;width:42.59px;height:1px;background:#585858"></div>
<div class="l" style="left:653.40px;top:886.71px;width:2.78px;height:2.78px;background:#10c010"></div>
<div class="t" style="top:897.90px;left:30.90px;transform-origin:0 0;">Yuan 2015</div>
<div class="t" style="top:897.90px;right:583.40px;transform-origin:100% 0;">17.3</div>
<div class="t" style="top:897.90px;right:545.00px;transform-origin:100% 0;">17.4</div>
<div class="t" style="top:897.90px;right:516.00px;transform-origin:100% 0;">52</div>
<div class="t" style="top:897.90px;right:485.80px;transform-origin:100% 0;">5.8</div>
<div class="t" style="top:897.90px;right:447.20px;transform-origin:100% 0;">6.5</div>
<div class="t" style="top:897.90px;right:418.30px;transform-origin:100% 0;">33</div>
<div class="t" style="top:897.90px;right:380.20px;transform-origin:100% 0;">11.0%</div>
<div class="t" style="top:897.90px;right:282.20px;transform-origin:100% 0;">0.80 [0.35, 1.25]</div>
<div class="l" style="left:615.84px;top:899.00px;width:32.76px;height:1px;background:#585858"></div>
<div class="l" style="left:630.76px;top:898.84px;width:2.92px;height:2.92px;background:#10c010"></div>
<div class="t" style="top:910.00px;left:30.90px;transform-origin:0 0;">Hu 2024</div>
<div class="t" style="top:910.00px;right:583.40px;transform-origin:100% 0;">5.26</div>
<div class="t" style="top:910.00px;right:545.00px;transform-origin:100% 0;">2.32</div>
<div class="t" style="top:910.00px;right:516.00px;transform-origin:100% 0;">29</div>
<div class="t" style="top:910.00px;right:485.80px;transform-origin:100% 0;">2.3</div>
<div class="t" style="top:910.00px;right:447.20px;transform-origin:100% 0;">2.05</div>
<div class="t" style="top:910.00px;right:418.30px;transform-origin:100% 0;">125</div>
<div class="t" style="top:910.00px;right:380.20px;transform-origin:100% 0;">11.1%</div>
<div class="t" style="top:910.00px;right:282.20px;transform-origin:100% 0;">1.40 [0.97, 1.83]</div>
<div class="l" style="left:638.41px;top:911.00px;width:31.30px;height:1px;background:#585858"></div>
<div class="l" style="left:652.59px;top:910.93px;width:2.93px;height:2.93px;background:#10c010"></div>
<div class="t b" style="top:921.40px;left:30.90px;transform-origin:0 0;">Subtotal (95% CI)</div>
<div class="t b" style="top:921.40px;right:516.00px;transform-origin:100% 0;">152</div>
<div class="t b" style="top:921.40px;right:418.30px;transform-origin:100% 0;">208</div>
<div class="t b" style="top:921.40px;right:380.20px;transform-origin:100% 0;">47.1%</div>
<div class="t b" style="top:921.40px;right:282.20px;transform-origin:100% 0;">1.14 [0.78, 1.50]</div>
<div class="t" style="top:934.60px;left:30.90px;transform-origin:0 0;">Heterogeneity: Tau² = 0.08; Chi² = 7.59, df = 4 (P = 0.11); I² = 47%</div>
<div class="t" style="top:946.40px;left:30.90px;transform-origin:0 0;">Test for overall effect: Z = 6.21 (P &lt; 0.00001)</div>
<div class="t b" style="top:969.90px;left:30.90px;transform-origin:0 0;">Total (95% CI)</div>
<div class="t b" style="top:969.90px;right:516.00px;transform-origin:100% 0;">463</div>
<div class="t b" style="top:969.90px;right:418.30px;transform-origin:100% 0;">576</div>
<div class="t b" style="top:969.90px;right:380.20px;transform-origin:100% 0;">100.0%</div>
<div class="t b" style="top:969.90px;right:282.20px;transform-origin:100% 0;">0.56 [0.17, 0.96]</div>
<div class="t" style="top:982.70px;left:30.90px;transform-origin:0 0;">Heterogeneity: Tau² = 0.31; Chi² = 63.20, df = 9 (P &lt; 0.00001); I² = 86%</div>
<div class="t" style="top:994.70px;left:30.90px;transform-origin:0 0;">Test for overall effect: Z = 2.80 (P = 0.005)</div>
<div class="t" style="top:1007.60px;left:30.90px;transform-origin:0 0;">Test for subgroup differences: Chi² = 25.69, df = 2 (P &lt; 0.00001), I² = 92.2%</div>
<div class="l" style="left:470.60px;top:984.00px;width:265.40px;height:1px;background:#2a2a2a"></div>
<div class="l" style="left:530.00px;top:981.40px;width:1px;height:6.00px;background:#2a2a2a"></div>
<div class="t" style="top:988.90px;left:429.80px;width:200px;text-align:center;transform-origin:50% 0;">-2</div>
<div class="l" style="left:566.00px;top:981.40px;width:1px;height:6.00px;background:#2a2a2a"></div>
<div class="t" style="top:988.90px;left:466.20px;width:200px;text-align:center;transform-origin:50% 0;">-1</div>
<div class="l" style="left:603.00px;top:981.40px;width:1px;height:6.00px;background:#2a2a2a"></div>
<div class="t" style="top:988.90px;left:503.10px;width:200px;text-align:center;transform-origin:50% 0;">0</div>
<div class="l" style="left:639.00px;top:981.40px;width:1px;height:6.00px;background:#2a2a2a"></div>
<div class="t" style="top:988.90px;left:539.50px;width:200px;text-align:center;transform-origin:50% 0;">1</div>
<div class="l" style="left:675.00px;top:981.40px;width:1px;height:6.00px;background:#2a2a2a"></div>
<div class="t" style="top:988.90px;left:575.90px;width:200px;text-align:center;transform-origin:50% 0;">2</div>
<div class="t" style="top:1000.20px;left:477.60px;transform-origin:0 0;">Lower CSF CXCL10 in HAND</div>
<div class="t" style="top:1000.20px;left:607.20px;transform-origin:0 0;">Higher CSF CXCL10 in HAND</div><svg class="ov" width="745" height="1016" viewBox="0 0 745 1016"><polygon points="598.00,716.20 607.10,711.00 616.20,716.20 607.10,721.40" fill="#000"/><polygon points="584.90,801.70 600.55,796.50 616.20,801.70 600.55,806.90" fill="#000"/><polygon points="631.49,923.80 644.60,918.60 657.70,923.80 644.60,929.00" fill="#000"/><polygon points="609.29,972.30 623.48,967.10 638.04,972.30 623.48,977.50" fill="#000"/></svg></div></div>

<div class="big" style="left:0.1px;top:-4.3px;font-size:33px">A</div>
<div class="big" style="left:6.25px;top:290.1px;font-size:34.5px;transform:scaleX(0.945);transform-origin:0 0">B</div>
<div class="big" style="left:3.1px;top:623.6px;font-size:37.2px;transform:scaleX(0.885);transform-origin:0 0;color:#0c0c1c;-webkit-text-stroke:0.7px #0c0c1c">C</div>

</div></body></html>
